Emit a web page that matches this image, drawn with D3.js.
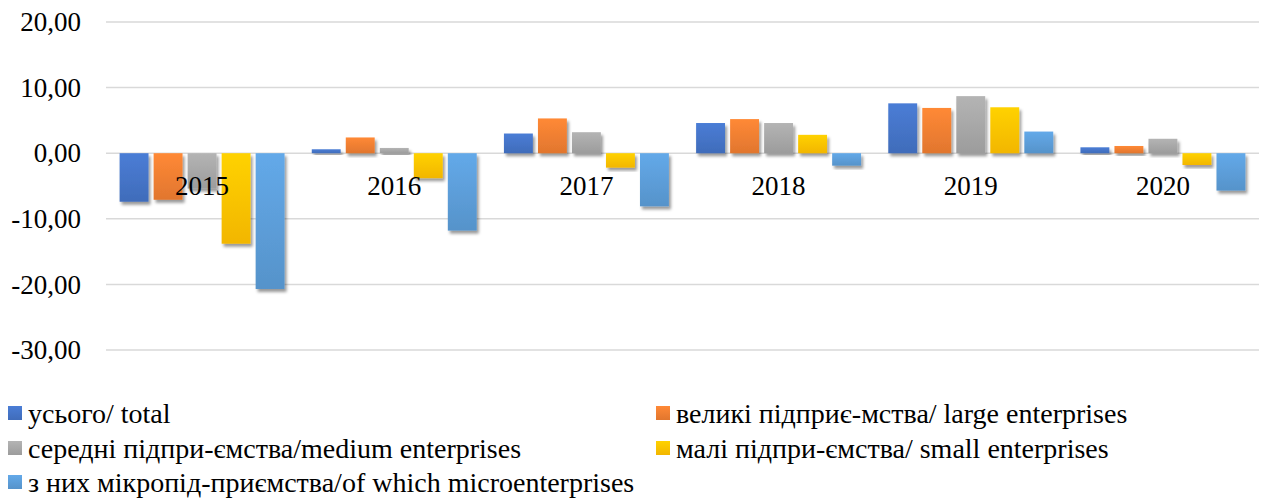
<!DOCTYPE html>
<html>
<head>
<meta charset="utf-8">
<script src="https://cdn.jsdelivr.net/npm/d3@7"></script>
<style>
  body { margin: 0; background: #fff; }
</style>
</head>
<body>
<div id="chart"></div>
<script>
// Data
let years = ['2015', '2016', '2017', '2018', '2019', '2020'];
let seriesNames = [
    'усього/ total',
    'великі підприє-мства/ large enterprises',
    'середні підпри-ємства/medium enterprises',
    'малі підпри-ємства/ small enterprises',
    'з них мікропід-приємства/of which microenterprises'
];
let total  = [-7.4, 0.6, 3.0, 4.6, 7.6, 0.9];
let large  = [-7.1, 2.4, 5.3, 5.2, 6.9, 1.1];
let medium = [-5.4, 0.8, 3.2, 4.6, 8.7, 2.2];
let small  = [-13.8, -3.8, -2.2, 2.8, 7.0, -1.8];
let micro  = [-20.7, -11.8, -8.1, -1.9, 3.3, -5.7];
let yTicks = [20, 10, 0, -10, -20, -30];
let colors = ['#4472C4', '#ED7D31', '#A5A5A5', '#FFC000', '#5B9BD5'];

let seriesValues = [total, large, medium, small, micro];

let serif = '"Liberation Serif", "Times New Roman", serif';

// Size
let width = 1264, height = 499;
let plot = { left: 106, right: 1259, top: 22, bottom: 350 };

let svg = d3.select('#chart')
    .append('svg')
    .attr('width', width)
    .attr('height', height)
    .style('font-family', serif);

let defs = svg.append('defs');

// gradients, lighter at top
colors.forEach(function (c, i) {
    let g = defs.append('linearGradient')
        .attr('id', 'grad' + i)
        .attr('x1', 0).attr('y1', 0).attr('x2', 0).attr('y2', 1);
    g.append('stop').attr('offset', '0%').attr('stop-color', d3.color(c).brighter(0.25));
    g.append('stop').attr('offset', '100%').attr('stop-color', d3.color(c).darker(0.15));
});

// soft shadow like the Excel bar effect
defs.append('filter')
    .attr('id', 'shadow')
    .attr('x', '-30%').attr('y', '-30%').attr('width', '160%').attr('height', '160%')
    .append('feDropShadow')
    .attr('dx', 2).attr('dy', 3)
    .attr('stdDeviation', 1.6)
    .attr('flood-color', '#000')
    .attr('flood-opacity', 0.4);

// Scales
let x0 = d3.scaleBand().domain(years).range([plot.left, plot.right]);
let x1 = d3.scaleBand().domain(d3.range(seriesNames.length))
    .range([0, x0.bandwidth()])
    .paddingInner(0.15)
    .paddingOuter(0.4);
let y = d3.scaleLinear().domain([-30, 20]).range([plot.bottom, plot.top]);

let locale = d3.formatLocale({ decimal: ',', thousands: ' ', grouping: [3], currency: ['', ''], minus: '-' });
let fmt = locale.format('.2f');

// Gridlines
svg.append('g')
    .selectAll('line')
    .data(yTicks)
    .enter()
    .append('line')
    .attr('x1', plot.left)
    .attr('x2', plot.right)
    .attr('y1', function (d) { return y(d); })
    .attr('y2', function (d) { return y(d); })
    .attr('stroke', '#d9d9d9')
    .attr('stroke-width', 1.5);

// Y axis labels
let yAxis = svg.append('g')
    .attr('transform', 'translate(' + plot.left + ',0)')
    .call(d3.axisLeft(y).tickValues(yTicks).tickFormat(fmt).tickSize(0).tickPadding(25));
yAxis.select('.domain').remove();
yAxis.selectAll('text')
    .style('font-family', serif)
    .style('font-size', '27px')
    .attr('fill', '#000');

// Bars
let groups = svg.append('g')
    .selectAll('g')
    .data(years)
    .enter()
    .append('g')
    .attr('transform', function (d) { return 'translate(' + x0(d) + ',0)'; });

groups.selectAll('rect')
    .data(function (d, i) {
        return seriesValues.map(function (vals, s) { return { s: s, v: vals[i] }; });
    })
    .enter()
    .append('rect')
    .attr('x', function (d) { return x1(d.s); })
    .attr('width', x1.bandwidth())
    .attr('y', function (d) { return y(Math.max(0, d.v)); })
    .attr('height', function (d) { return Math.abs(y(d.v) - y(0)); })
    .attr('fill', function (d) { return 'url(#grad' + d.s + ')'; })
    .attr('filter', 'url(#shadow)');

// Category labels sit just under the zero line
let xAxis = svg.append('g')
    .attr('transform', 'translate(0,' + y(0) + ')')
    .call(d3.axisBottom(x0).tickSize(0).tickPadding(23));
xAxis.select('.domain').remove();
xAxis.selectAll('text')
    .style('font-family', serif)
    .style('font-size', '27px')
    .attr('fill', '#000');

// Legend
let legendPos = [
    { x: 8, y: 413 }, { x: 656, y: 413 },
    { x: 8, y: 448 }, { x: 656, y: 448 },
    { x: 8, y: 482 }
];
let legend = svg.append('g')
    .selectAll('g')
    .data(seriesNames)
    .enter()
    .append('g')
    .attr('transform', function (d, i) {
        return 'translate(' + legendPos[i].x + ',' + legendPos[i].y + ')';
    });

legend.append('rect')
    .attr('x', 0)
    .attr('y', -7)
    .attr('width', 14)
    .attr('height', 14)
    .attr('fill', function (d, i) { return 'url(#grad' + i + ')'; });

legend.append('text')
    .attr('x', 20)
    .attr('y', 0)
    .attr('dy', '0.35em')
    .style('font-family', serif)
    .style('font-size', '28px')
    .attr('fill', '#000')
    .text(function (d) { return d; });
</script>
</body>
</html>
